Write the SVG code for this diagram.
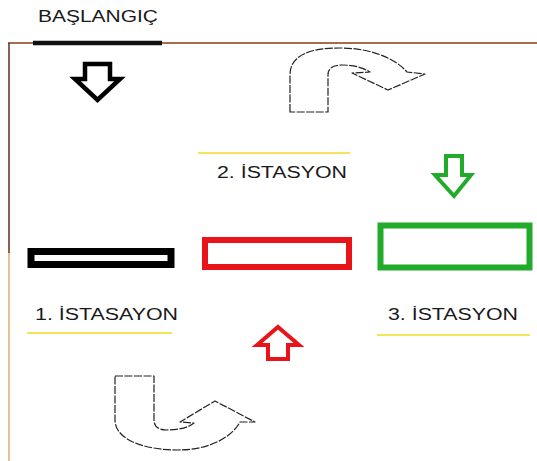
<svg xmlns="http://www.w3.org/2000/svg" width="537" height="461" viewBox="0 0 537 461">
  <style>
    .lbl { font-family: "Liberation Sans", Arial, sans-serif; font-size: 16px; fill: #1a1a1a; }
    .yl { stroke: #EEDD22; stroke-width: 1.5; fill: none; }
    .curve { fill: none; stroke: #222; stroke-width: 1.2; stroke-dasharray: 8 1.5; stroke-linejoin: round; }
  </style>
  <rect width="537" height="461" fill="#fff"/>
  <g id="frame">
    <path d="M8,43 H33 M162,43 H537" stroke="#8B3A1A" stroke-width="1.5" fill="none"/>
    <path d="M9,43 V253" stroke="#6B3A2A" stroke-width="1.6" fill="none"/>
    <path d="M9,253 V461" stroke="#D9B57A" stroke-width="1.6" fill="none"/>
  </g>
  <g id="start">
    <text class="lbl" x="38" y="22" textLength="120" lengthAdjust="spacingAndGlyphs">BAŞLANGIÇ</text>
    <line x1="33" y1="43" x2="162" y2="43" stroke="#111" stroke-width="4.5"/>
  </g>
  <g id="station1">
    <rect x="31" y="251.5" width="140" height="13" fill="#fff" stroke="#000" stroke-width="7"/>
    <text class="lbl" x="35" y="320" textLength="143" lengthAdjust="spacingAndGlyphs">1. İSTASAYON</text>
    <line class="yl" x1="27" y1="333" x2="172" y2="333"/>
  </g>
  <g id="station2">
    <line class="yl" x1="198" y1="153" x2="350" y2="153"/>
    <text class="lbl" x="217" y="178" textLength="130" lengthAdjust="spacingAndGlyphs">2. İSTASYON</text>
    <rect x="205" y="240" width="144" height="27" fill="#fff" stroke="#E8141A" stroke-width="6"/>
  </g>
  <g id="station3">
    <rect x="380.5" y="225.5" width="149" height="42" fill="#fff" stroke="#22AA2A" stroke-width="6"/>
    <text class="lbl" x="388" y="320" textLength="130" lengthAdjust="spacingAndGlyphs">3. İSTASYON</text>
    <line class="yl" x1="377" y1="335" x2="530" y2="335"/>
  </g>
  <g id="connectors">
    <polygon points="85,64 110,64 110,79 120,79 97.5,100 75,79 85,79" fill="#fff" stroke="#000" stroke-width="4.5" stroke-linejoin="miter"/>
    <path class="curve" d="M290,112 L290,75 C290,55 310,48 340,48 C370,48 395,58 407,72 L425,74 L388,90 L352,73 L370,72 C362,67 352,65 342,65 C333,65 328,68 328,75 L328,112 Z"/>
    <polygon points="446,156 462,156 462,175 471,175 454,196 435,175 446,175" fill="#fff" stroke="#22AA2A" stroke-width="4"/>
    <polygon points="278,327 299,345 288,345 288,359 268,359 268,345 257,345" fill="#fff" stroke="#E8141A" stroke-width="4"/>
    <path class="curve" d="M115,376 L154,376 L154,420 C154,426 158,430 166,430 C178,430 188,428 194,423 L180,422 L215,401 L255,422 L240,422 C230,440 205,450 178,450 C145,450 115,440 115,420 Z"/>
  </g>
</svg>
